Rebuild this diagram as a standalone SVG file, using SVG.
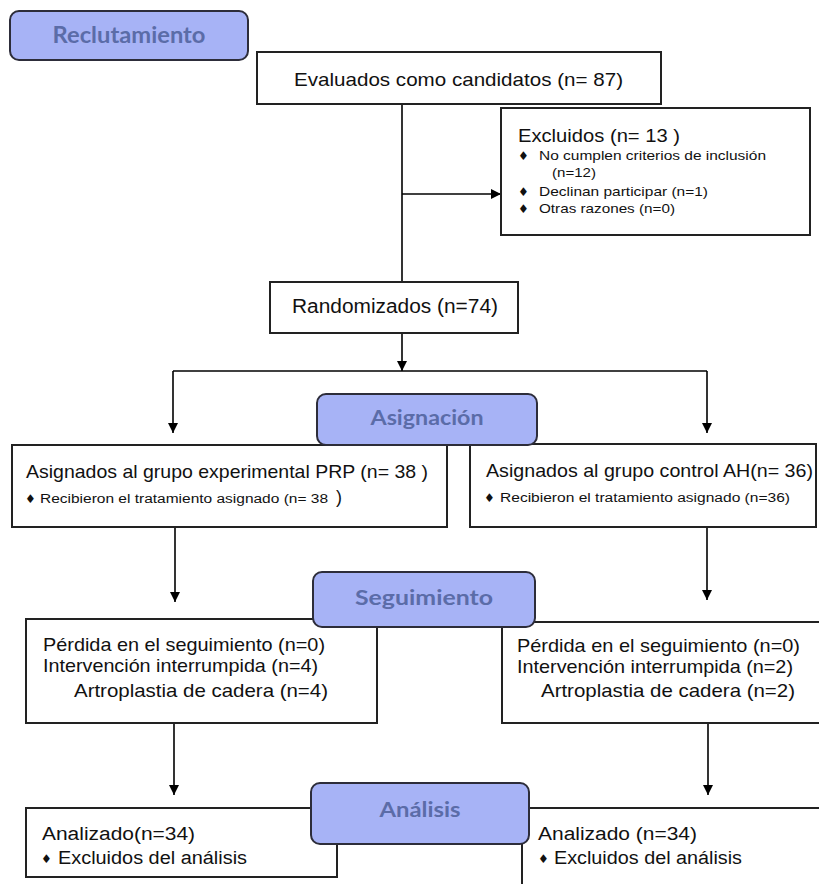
<svg xmlns="http://www.w3.org/2000/svg" width="819" height="884" viewBox="0 0 819 884">
<defs>
<marker id="arr" viewBox="0 0 10 10" refX="10" refY="5" markerWidth="10" markerHeight="10" markerUnits="userSpaceOnUse" orient="auto"><path d="M0,0 L10,5 L0,10 z" fill="#000"/></marker>
<style>
.box{fill:#fff;stroke:#222;stroke-width:2}
.lbl{fill:#a7b3f6;stroke:#2d2d3a;stroke-width:2}
.lt{font-family:Lato,"Open Sans",sans-serif;font-weight:bold;fill:#5b6ca8;text-anchor:middle}
.t{font-family:"Liberation Sans",Arial,sans-serif;fill:#111}
.b{font-family:"DejaVu Sans",sans-serif;fill:#111;font-size:12px}
.con{fill:none;stroke:#000;stroke-width:1.6}
</style>
</defs>
<rect width="819" height="884" fill="#fff"/>
<g id="connectors">
<path class="con" d="M402,104 V282"/>
<path class="con" d="M402,194 H501" marker-end="url(#arr)"/>
<path class="con" d="M402,333 V371" marker-end="url(#arr)"/>
<path class="con" d="M173,371 H707"/>
<path class="con" d="M173,371 V433" marker-end="url(#arr)"/>
<path class="con" d="M707,371 V433" marker-end="url(#arr)"/>
<path class="con" d="M175,527 V602" marker-end="url(#arr)"/>
<path class="con" d="M707,527 V600" marker-end="url(#arr)"/>
<path class="con" d="M174,723 V795" marker-end="url(#arr)"/>
<path class="con" d="M708,723 V795" marker-end="url(#arr)"/>
</g>
<g id="evaluados">
<rect class="box" x="257" y="52" width="404" height="52"/>
<text class="t" x="294" y="86" font-size="19" textLength="329" lengthAdjust="spacingAndGlyphs">Evaluados como candidatos (n= 87)</text>
</g>
<g id="excluidos">
<rect class="box" x="501" y="108" width="309" height="127"/>
<text class="t" x="518" y="142" font-size="19" textLength="162" lengthAdjust="spacingAndGlyphs">Excluidos  (n= 13 )</text>
<text class="b" x="518" y="160">♦</text>
<text class="t" x="539" y="160" font-size="13" textLength="227" lengthAdjust="spacingAndGlyphs">No cumplen criterios de inclusión</text>
<text class="t" x="552" y="177" font-size="13" textLength="44" lengthAdjust="spacingAndGlyphs">(n=12)</text>
<text class="b" x="518" y="196">♦</text>
<text class="t" x="539" y="196" font-size="13" textLength="169" lengthAdjust="spacingAndGlyphs">Declinan participar (n=1)</text>
<text class="b" x="518" y="213">♦</text>
<text class="t" x="539" y="213" font-size="13" textLength="136" lengthAdjust="spacingAndGlyphs">Otras razones  (n=0)</text>
</g>
<g id="randomizados">
<rect class="box" x="270" y="282" width="248" height="51"/>
<text class="t" x="292" y="313" font-size="20" textLength="206" lengthAdjust="spacingAndGlyphs">Randomizados (n=74)</text>
</g>
<g id="asig-prp">
<rect class="box" x="12" y="445" width="435" height="82"/>
<text class="t" x="26" y="478" font-size="19" textLength="402" lengthAdjust="spacingAndGlyphs">Asignados al grupo experimental PRP (n= 38 )</text>
<text class="b" x="25" y="503" font-size="10">♦</text>
<text class="t" x="40" y="503" font-size="12" textLength="288" lengthAdjust="spacingAndGlyphs">Recibieron el tratamiento asignado  (n= 38</text>
<text class="t" x="336" y="503" font-size="18">)</text>
</g>
<g id="asig-ah">
<rect class="box" x="470" y="444" width="346" height="83"/>
<text class="t" x="486" y="477" font-size="19" textLength="327" lengthAdjust="spacingAndGlyphs">Asignados al grupo control AH(n= 36)</text>
<text class="b" x="484" y="502">♦</text>
<text class="t" x="500" y="502" font-size="12" textLength="290" lengthAdjust="spacingAndGlyphs">Recibieron el tratamiento asignado  (n=36)</text>
</g>
<g id="seg-prp">
<rect class="box" x="26" y="619" width="351" height="104"/>
<text class="t" x="43" y="651" font-size="18.5" textLength="282" lengthAdjust="spacingAndGlyphs">Pérdida en el seguimiento (n=0)</text>
<text class="t" x="43" y="672" font-size="18.5" textLength="275" lengthAdjust="spacingAndGlyphs">Intervención interrumpida (n=4)</text>
<text class="t" x="74" y="697" font-size="18.5" textLength="254" lengthAdjust="spacingAndGlyphs">Artroplastia de cadera (n=4)</text>
</g>
<g id="seg-ah">
<rect class="box" x="502" y="622" width="330" height="101"/>
<text class="t" x="517" y="652" font-size="18.5" textLength="283" lengthAdjust="spacingAndGlyphs">Pérdida en el seguimiento (n=0)</text>
<text class="t" x="517" y="673" font-size="18.5" textLength="276" lengthAdjust="spacingAndGlyphs">Intervención interrumpida (n=2)</text>
<text class="t" x="541" y="697" font-size="18.5" textLength="254" lengthAdjust="spacingAndGlyphs">Artroplastia de cadera (n=2)</text>
</g>
<g id="ana-prp">
<rect class="box" x="26" y="808" width="311" height="69"/>
<text class="t" x="42" y="840" font-size="18" textLength="153" lengthAdjust="spacingAndGlyphs">Analizado(n=34)</text>
<text class="b" x="41" y="863" font-size="10">♦</text>
<text class="t" x="58" y="864" font-size="18" textLength="189" lengthAdjust="spacingAndGlyphs">Excluidos del análisis</text>
</g>
<g id="ana-ah">
<rect class="box" x="522" y="808" width="310" height="90"/>
<text class="t" x="538" y="840" font-size="18" textLength="159" lengthAdjust="spacingAndGlyphs">Analizado (n=34)</text>
<text class="b" x="538" y="863" font-size="10">♦</text>
<text class="t" x="554" y="864" font-size="18" textLength="188" lengthAdjust="spacingAndGlyphs">Excluidos del análisis</text>
</g>
<g id="lbl-reclutamiento">
<rect class="lbl" x="10" y="11" width="238" height="49" rx="9"/>
<text class="lt" x="129" y="43" font-size="23" textLength="153" lengthAdjust="spacingAndGlyphs">Reclutamiento</text>
</g>
<g id="lbl-asignacion">
<rect class="lbl" x="317" y="394" width="220" height="51" rx="9"/>
<text class="lt" x="427" y="425" font-size="21" textLength="113" lengthAdjust="spacingAndGlyphs">Asignación</text>
</g>
<g id="lbl-seguimiento">
<rect class="lbl" x="313" y="572" width="222" height="55" rx="9"/>
<text class="lt" x="424" y="605" font-size="21" textLength="138" lengthAdjust="spacingAndGlyphs">Seguimiento</text>
</g>
<g id="lbl-analisis">
<rect class="lbl" x="311" y="783" width="218" height="61" rx="9"/>
<text class="lt" x="420" y="817" font-size="21" textLength="81" lengthAdjust="spacingAndGlyphs">Análisis</text>
</g>
</svg>
